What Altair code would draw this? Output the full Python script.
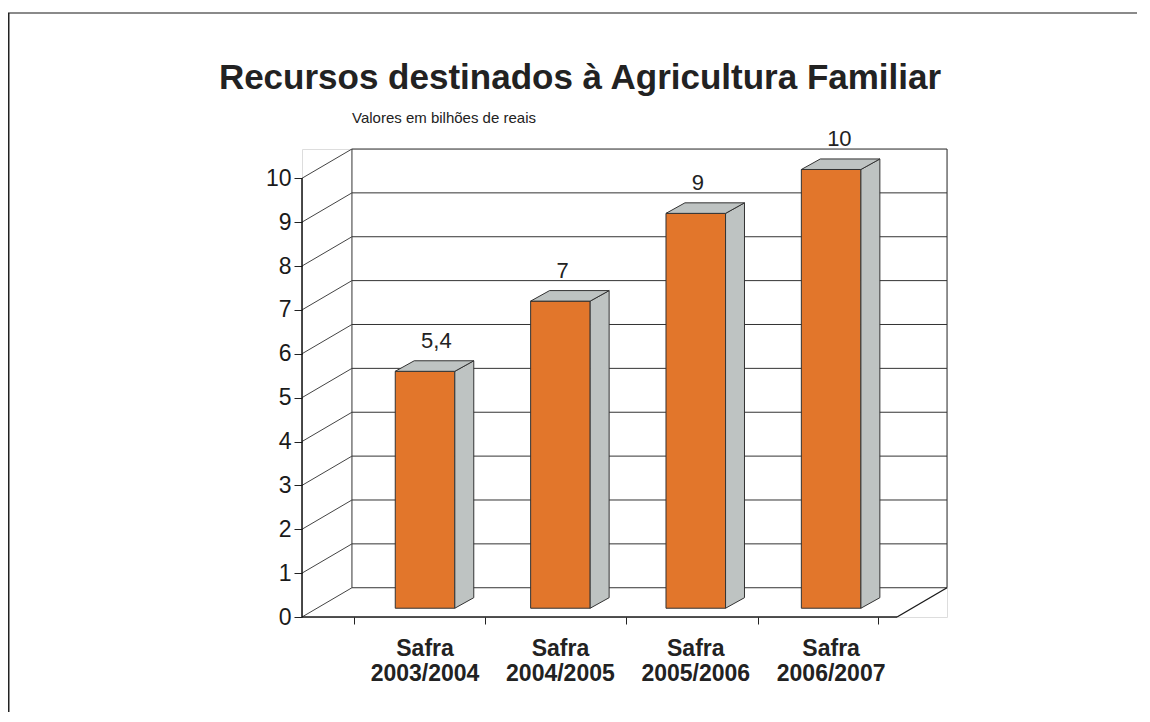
import altair as alt
import pandas as pd

# ---------------- data ----------------
CATEGORIES = ["Safra 2003/2004", "Safra 2004/2005", "Safra 2005/2006", "Safra 2006/2007"]
VALUES = [5.4, 7, 9, 10]
VALUE_LABELS = ["5,4", "7", "9", "10"]
Y_TICKS = [0, 1, 2, 3, 4, 5, 6, 7, 8, 9, 10]
X_TICKS = [-0.525, 0.443, 1.484, 2.46, 3.346]
TITLE = "Recursos destinados à Agricultura Familiar"
SUBTITLE = "Valores em bilhões de reais"

# ---------------- layout (pseudo-3D geometry, in scale units) ----------------
W, H = 645, 468
X_MIN, X_MAX = -0.909, 3.856
DX, DY = 0.369, 0.667          # depth of the back wall
HW = 0.22                      # half bar width
BDX, BDY = 0.14, 0.24          # bar depth
BASE = 0.2                     # bars stand slightly back on the floor
FONT = "Liberation Sans"
ORANGE = "#E2762B"
GREY = "#BEC3C2"
EDGE = "#333333"

xs = alt.Scale(domain=[X_MIN, X_MAX], nice=False, zero=False)
ys = alt.Scale(domain=[0, 10 + DY], nice=False, zero=False)

x_axis = alt.Axis(values=X_TICKS, labels=False, domain=False, ticks=True, tickSize=7,
                  tickColor="#222", tickWidth=1, grid=False, title=None)
y_axis = alt.Axis(values=Y_TICKS, domain=False, ticks=True, tickSize=8, tickColor="#222",
                  labelFontSize=23, labelColor="#1a1a1a", labelFont=FONT, labelPadding=3,
                  grid=False, title=None)


def X(field):
    return alt.X(field, type="quantitative", scale=xs, axis=x_axis)


def Y(field):
    return alt.Y(field, type="quantitative", scale=ys, axis=y_axis)


# ---------------- tables built from the arrays ----------------
front = pd.DataFrame([
    {"i": k, "x1": k - HW, "x2": k + HW, "y1": BASE, "y2": v + BASE}
    for k, v in enumerate(VALUES)
])
side = pd.DataFrame(
    [{"i": k, "sx": k + HW, "st": v + BASE, "sb": BASE} for k, v in enumerate(VALUES)]
    + [{"i": k, "sx": k + HW + BDX, "st": v + BASE + BDY, "sb": BASE + BDY} for k, v in enumerate(VALUES)]
)
top = pd.DataFrame(
    [{"i": k, "ty": v + BASE, "tl": k - HW, "tr": k + HW} for k, v in enumerate(VALUES)]
    + [{"i": k, "ty": v + BASE + BDY, "tl": k - HW + BDX, "tr": k + HW + BDX} for k, v in enumerate(VALUES)]
)
labels = pd.DataFrame({"i": list(range(len(VALUES))), "y": [v + BASE + BDY for v in VALUES],
                       "lab": VALUE_LABELS})
cats = pd.DataFrame({"i": list(range(len(CATEGORIES))), "cat": CATEGORIES})

back = pd.DataFrame(
    [{"x": X_MIN + DX, "x2": X_MAX, "y": t + DY, "y2": t + DY} for t in Y_TICKS]
    + [{"x": X_MIN + DX, "x2": X_MIN + DX, "y": DY, "y2": max(Y_TICKS) + DY},
       {"x": X_MAX, "x2": X_MAX, "y": DY, "y2": max(Y_TICKS) + DY}]
)
diag = pd.DataFrame([{"x": X_MIN, "x2": X_MIN + DX, "y": t, "y2": t + DY} for t in Y_TICKS])
floorlines = pd.DataFrame([
    {"x": X_MIN, "x2": X_MAX - DX, "y": 0.0, "y2": 0.0},
    {"x": X_MAX - DX, "x2": X_MAX, "y": 0.0, "y2": DY},
])
yaxisline = pd.DataFrame([{"x": X_MIN, "y": 0.0, "y2": float(max(Y_TICKS))}])


def rules(df, color, width):
    return alt.Chart(df).mark_rule(color=color, strokeWidth=width).encode(
        x=X("x"), x2="x2", y=Y("y"), y2="y2",
    )


back_layer = rules(back, EDGE, 1)
diag_layer = rules(diag, "#444444", 1)
floor_layer = rules(floorlines, "#1a1a1a", 1.4)
yline_layer = alt.Chart(yaxisline).mark_rule(color="#111111", strokeWidth=1.5).encode(
    x=X("x"), y=Y("y"), y2="y2",
)

faces = alt.Chart(front).mark_rect(color=ORANGE, stroke=EDGE, strokeWidth=1).encode(
    x=X("x1"), x2="x2", y=Y("y1"), y2="y2",
)
sides = alt.Chart(side).mark_area(orient="vertical", color=GREY, stroke=EDGE, strokeWidth=1).encode(
    x=X("sx"), y=Y("st"), y2="sb", detail="i:N",
)
tops = alt.Chart(top).mark_area(orient="horizontal", color=GREY, stroke=EDGE, strokeWidth=1).encode(
    y=Y("ty"), x=X("tl"), x2="tr", detail="i:N",
)
value_text = alt.Chart(labels).mark_text(
    align="left", baseline="alphabetic", dx=-4, dy=-13, fontSize=22, font=FONT, color="#222"
).encode(
    x=X("i"), y=Y("y"), text="lab:N",
)
cat_text = alt.Chart(cats).mark_text(
    align="center", baseline="top", lineBreak=" ", lineHeight=25, fontSize=23,
    fontWeight="bold", font=FONT, color="#222"
).encode(
    x=X("i"), y=alt.value(H + 21), text="cat:N",
)
title_text = alt.Chart(pd.DataFrame({"t": [TITLE]})).mark_text(
    align="center", baseline="alphabetic", fontSize=35, fontWeight="bold", font=FONT, color="#222"
).encode(x=alt.value(278), y=alt.value(-60), text="t:N")
sub_text = alt.Chart(pd.DataFrame({"t": [SUBTITLE]})).mark_text(
    align="left", baseline="middle", fontSize=15, font=FONT, color="#222"
).encode(x=alt.value(50), y=alt.value(-31), text="t:N")

# page frame (top grey line, dark left line) at the very edge of the drawing
frame_top = alt.Chart(pd.DataFrame({"k": [0]})).mark_rect(color="#8a8a8a").encode(
    x=alt.value(-294), x2=alt.value(840), y=alt.value(-137), y2=alt.value(-135))
frame_left = alt.Chart(pd.DataFrame({"k": [0]})).mark_rect(color="#222222").encode(
    x=alt.value(-294), x2=alt.value(-292.5), y=alt.value(-136), y2=alt.value(563))

chart = alt.layer(
    frame_top, frame_left,
    back_layer, diag_layer, floor_layer, yline_layer,
    faces, sides, tops,
    value_text, cat_text, title_text, sub_text,
).properties(
    width=W, height=H,
    autosize=alt.AutoSizeParams(type="none"),
    padding={"left": 294, "top": 141, "right": 190, "bottom": 95},
).configure_view(stroke=None).configure(background="white")

chart.save("out.html", embed_options={"renderer": "svg", "actions": False})
